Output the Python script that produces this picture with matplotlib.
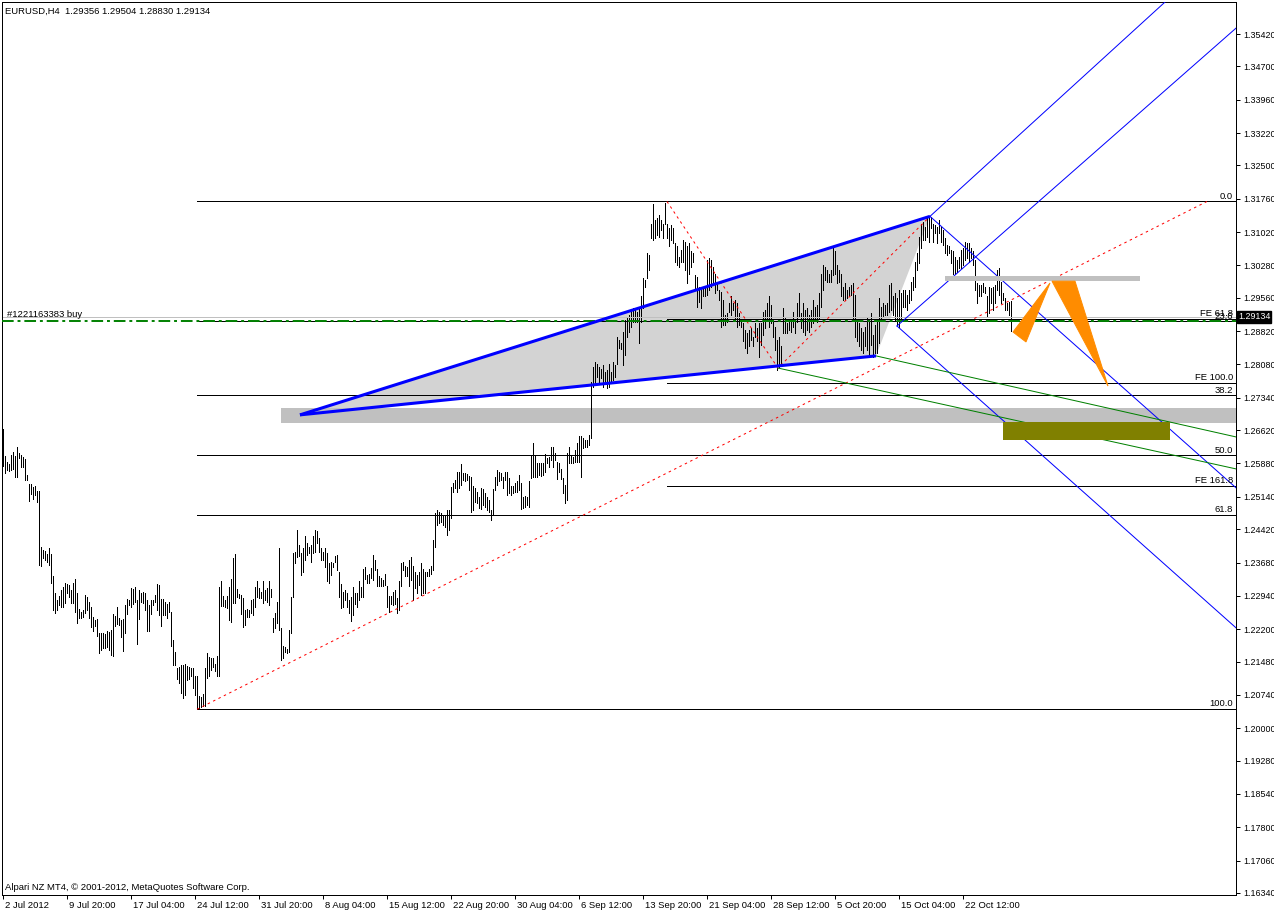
import matplotlib
matplotlib.use("Agg")
import matplotlib.pyplot as plt
import matplotlib.transforms as mtransforms
from matplotlib.patches import Polygon, Rectangle

plt.rcParams['font.family'] = ['Liberation Sans', 'DejaVu Sans']

CHART_TITLE = "EURUSD,H4  1.29356 1.29504 1.28830 1.29134"
BROKER_NOTE = "Alpari NZ MT4, \u00a9 2001-2012, MetaQuotes Software Corp."
ORDER_LABEL = "#1221163383 buy"

# H4 bar highs / lows in 1/10000 price units, one per bar starting 2 Jul 2012
HIGH_PIPS = [
    12664, 12605, 12591, 12587, 12607, 12613, 12605, 12624, 12611, 12607,
    12602, 12597, 12563, 12542, 12542, 12535, 12537, 12526, 12526, 12402,
    12396, 12394, 12388, 12400, 12387, 12337, 12300, 12285, 12294, 12306,
    12314, 12322, 12320, 12318, 12307, 12322, 12331, 12300, 12264, 12259,
    12263, 12296, 12292, 12281, 12270, 12248, 12240, 12242, 12211, 12211,
    12211, 12209, 12217, 12214, 12218, 12254, 12249, 12269, 12244, 12241,
    12243, 12274, 12287, 12285, 12311, 12309, 12314, 12285, 12306, 12300,
    12303, 12300, 12285, 12274, 12285, 12285, 12296, 12320, 12318, 12286,
    12286, 12281, 12276, 12281, 12259, 12196, 12170, 12133, 12135, 12140,
    12140, 12142, 12138, 12137, 12133, 12133, 12115, 12115, 12072, 12070,
    12077, 12133, 12166, 12159, 12157, 12155, 12143, 12160, 12314, 12326,
    12294, 12285, 12294, 12314, 12331, 12378, 12387, 12309, 12298, 12296,
    12289, 12263, 12264, 12263, 12285, 12286, 12314, 12326, 12311,
    12303, 12326, 12307, 12311, 12326, 12309, 12244, 12257, 12281, 12400,
    12222, 12183, 12181, 12175, 12218, 12292, 12390, 12392, 12440, 12407,
    12389, 12400, 12426, 12411, 12403, 12407, 12427, 12440, 12437, 12422,
    12400, 12392, 12400, 12390, 12368, 12370, 12368, 12383, 12385, 12346,
    12320, 12303, 12306, 12300, 12285, 12292, 12314, 12300, 12301, 12326,
    12314, 12353, 12357, 12340, 12343, 12355, 12385, 12374, 12353, 12337,
    12333, 12329, 12343, 12316, 12294, 12294, 12303, 12306, 12289, 12326,
    12368, 12370, 12360, 12359, 12374, 12381, 12360, 12348, 12340, 12348,
    12366, 12353, 12346, 12348, 12353, 12360, 12418, 12479, 12485, 12481,
    12477, 12471, 12474, 12485, 12485, 12535, 12544, 12551, 12568, 12570,
    12587, 12566, 12566, 12565, 12560, 12559, 12538, 12533, 12525, 12514,
    12533, 12531, 12522, 12514, 12507, 12485, 12531, 12557, 12574, 12570,
    12566, 12559, 12570, 12570, 12555, 12537, 12538, 12544, 12548, 12563,
    12544, 12514, 12516, 12514, 12548, 12607, 12633, 12607, 12588, 12588,
    12588, 12588, 12609, 12600, 12603, 12624, 12625, 12612, 12592, 12590,
    12575, 12555, 12540, 12611, 12624, 12607, 12603, 12617, 12633, 12649,
    12648, 12644, 12640, 12640, 12651, 12770,
    12803, 12814, 12810, 12803, 12799, 12807, 12792, 12796, 12810, 12792,
    12814, 12807, 12870, 12862, 12855, 12881, 12907, 12914, 12918, 12929,
    12933, 12929, 12925, 12933, 12959, 12999, 12996, 13055, 13051, 13121,
    13164, 13129, 13133, 13140, 13129, 13121, 13166, 13121, 13110, 13118,
    13110, 13077, 13070, 13047, 13062, 13084, 13081, 13070, 13077, 13059,
    13055, 13007, 13003, 12981, 12973, 12977, 12977, 13040, 13044, 13039,
    13025, 13010, 12988, 12973, 12970, 12951, 12918, 12922, 12944, 12959,
    12944, 12951, 12944, 12922, 12910, 12899, 12885, 12877, 12885, 12888,
    12870, 12899, 12888, 12899, 12899, 12925, 12929, 12944, 12959, 12940,
    12903, 12892, 12862, 12870, 12848, 12933, 12914, 12899, 12907, 12910,
    12925, 12907, 12944, 12966,
    12922, 12944, 12929, 12933, 12918, 12929, 12951, 12936, 12940, 12966,
    13010, 13029, 13025, 13018, 13010, 13018, 13066, 13059, 13029, 13018,
    13010, 12981, 12988, 12973, 12981, 12984, 12988, 12962, 12910, 12899,
    12888, 12881, 12892, 12914, 12910, 12922, 12873, 12896, 12907, 12955,
    12936, 12944, 12940, 12944, 12984, 12988, 12959, 12966, 12955, 12973,
    12966, 12973, 12973, 12962, 12973, 12992, 13003, 13036, 13055, 13092,
    13121, 13125, 13114, 13133, 13136, 13136, 13121, 13118, 13114, 13129,
    13114, 13107, 13088, 13073, 13070, 13062, 13059, 13047, 13040, 13047,
    13062, 13066, 13081, 13077, 13077, 13066, 13059, 13040, 12988, 12984,
    12984, 12988, 12981, 12959, 12981, 12977, 12981, 12984, 13018, 13022,
    12992, 12966, 12955, 12944, 12947, 12950,
]
LOW_PIPS = [
    12583, 12566, 12574, 12572, 12574, 12575, 12557, 12559, 12600, 12580,
    12580, 12551, 12551, 12505, 12520, 12510, 12518, 12503, 12363, 12361,
    12379, 12374, 12370, 12363, 12322, 12263, 12255, 12263, 12274, 12269,
    12270, 12279, 12300, 12292, 12279, 12279, 12259, 12233, 12244, 12244,
    12248, 12255, 12263, 12244, 12224, 12217, 12227, 12205, 12166, 12174,
    12178, 12178, 12181, 12174, 12163, 12161, 12228, 12232, 12229, 12203,
    12172, 12211, 12254, 12274, 12270, 12275, 12281, 12187, 12242, 12281,
    12279, 12263, 12217, 12217, 12253, 12274, 12281, 12263, 12252, 12227,
    12252, 12252, 12244, 12259, 12183, 12140, 12140, 12109, 12100, 12079,
    12066, 12074, 12107, 12109, 12115, 12089, 12074, 12044, 12042, 12047,
    12050, 12050, 12111, 12115, 12129, 12137, 12126, 12116, 12115, 12272,
    12272, 12270, 12266, 12240, 12237, 12279, 12279, 12292, 12289, 12254,
    12224, 12229, 12247, 12248, 12255, 12252, 12270, 12292, 12289,
    12289, 12278, 12285, 12281, 12274, 12292, 12214, 12222, 12233, 12218,
    12152, 12155, 12170, 12168, 12170, 12211, 12292, 12366, 12381, 12383,
    12340, 12348, 12374, 12385, 12389, 12370, 12389, 12392, 12411, 12392,
    12374, 12374, 12359, 12326, 12322, 12340, 12359, 12370, 12352, 12292,
    12266, 12270, 12285, 12270, 12255, 12239, 12252, 12277, 12270, 12285,
    12292, 12292, 12331, 12323, 12323, 12333, 12329, 12352, 12315, 12316,
    12315, 12315, 12318, 12270, 12259, 12276, 12274, 12277, 12255, 12263,
    12315, 12352, 12337, 12337, 12315, 12329, 12285, 12311, 12300, 12318,
    12296, 12300, 12300, 12337, 12338, 12342, 12352, 12403, 12451, 12455,
    12459, 12451, 12448, 12429, 12440, 12466, 12525, 12533, 12525, 12533,
    12540, 12551, 12548, 12551, 12529, 12481, 12485, 12503, 12500, 12489,
    12486, 12496, 12492, 12485, 12481, 12463, 12474, 12529, 12540, 12548,
    12551, 12533, 12551, 12518, 12522, 12518, 12522, 12525, 12525, 12529,
    12486, 12489, 12492, 12496, 12492, 12555, 12559, 12559, 12559, 12563,
    12560, 12563, 12570, 12588, 12581, 12596, 12581, 12596, 12553, 12570,
    12553, 12522, 12500, 12508, 12588, 12588, 12588, 12592, 12592, 12592,
    12559, 12622, 12625, 12625, 12629, 12644,
    12759, 12766, 12781, 12770, 12777, 12759, 12770, 12755, 12759, 12766,
    12773, 12781, 12810, 12844, 12842, 12807, 12829, 12870, 12881, 12892,
    12903, 12903, 12903, 12855, 12903, 12933, 12981, 12999, 13018, 13088,
    13084, 13088, 13096, 13092, 13107, 13088, 13121, 13088, 13070, 13084,
    13077, 13036, 13029, 13025, 13036, 13036, 13018, 12990, 13010, 13025,
    13036, 12973, 12936, 12947, 12933, 12959, 12959, 12962, 12973, 12981,
    12984, 12966, 12973, 12951, 12892, 12896, 12896, 12903, 12925, 12918,
    12929, 12907, 12892, 12896, 12892, 12859, 12844, 12833, 12848, 12862,
    12848, 12870, 12859, 12825, 12851, 12873, 12888, 12907, 12892, 12899,
    12870, 12840, 12796, 12803, 12810, 12877, 12877, 12877, 12885, 12881,
    12892, 12877, 12903, 12914,
    12888, 12881, 12873, 12885, 12881, 12892, 12899, 12907, 12903, 12910,
    12936, 12973, 12996, 12992, 12992, 12992, 13007, 13010, 12988, 12992,
    12959, 12951, 12951, 12955, 12959, 12962, 12910, 12870, 12859, 12848,
    12840, 12833, 12848, 12840, 12829, 12851, 12825, 12833, 12833, 12855,
    12910, 12914, 12918, 12918, 12925, 12929, 12918, 12907, 12896, 12892,
    12907, 12936, 12936, 12929, 12944, 12951, 12973, 12981, 13018, 13033,
    13066, 13084, 13084, 13092, 13081, 13110, 13081, 13099, 13077, 13099,
    13081, 13073, 13055, 13051, 13055, 13033, 13010, 13010, 13014, 13022,
    13022, 13029, 13040, 13044, 13036, 13044, 13029, 12973, 12944, 12959,
    12959, 12970, 12966, 12914, 12922, 12944, 12929, 12944, 12973, 12962,
    12944, 12951, 12929, 12929, 12918, 12883,
]

TIME_LABELS = ["2 Jul 2012", "9 Jul 20:00", "17 Jul 04:00", "24 Jul 12:00",
               "31 Jul 20:00", "8 Aug 04:00", "15 Aug 12:00", "22 Aug 20:00",
               "30 Aug 04:00", "6 Sep 12:00", "13 Sep 20:00", "21 Sep 04:00",
               "28 Sep 12:00", "5 Oct 20:00", "15 Oct 04:00", "22 Oct 12:00"]
TIME_LABEL_STEP = 32

PRICE_LABELS = ["1.16340", "1.17060", "1.17800", "1.18540", "1.19280", "1.20000",
                "1.20740", "1.21480", "1.22200", "1.22940", "1.23680", "1.24420",
                "1.25140", "1.25880", "1.26620", "1.27340", "1.28080", "1.28820",
                "1.29560", "1.30280", "1.31020", "1.31760", "1.32500", "1.33220",
                "1.33960", "1.34700", "1.35420"]

LAST_PRICE = 1.29134
ORDER_PRICE = 1.29050

# Fibonacci retracement (bar index, price)
FIB_LOW = (97, 1.20420)
FIB_HIGH = (602, 1.31700)
FIB_LEVELS = [0.0, 23.6, 38.2, 50.0, 61.8, 100.0]

# Fibonacci expansion points A, B, C
FE_A = (332, 1.31700)
FE_B = (387.5, 1.28000)
FE_C = (463.5, 1.31370)
FE_LEVELS = [61.8, 100.0, 161.8]

# triangle / wedge
WEDGE = [(148.5, 1.26960), (463.5, 1.31370), (436.5, 1.28270)]

# rays: (start point, through point)
BLUE_RAYS = [((463.5, 1.31370), (581.0, 1.36130)),
             ((447.0, 1.28934), (616.5, 1.35550)),
             ((463.5, 1.31370), (616.5, 1.25340)),
             ((447.0, 1.28934), (616.5, 1.22230))]
GREEN_RAYS = [((436.5, 1.28270), (616.5, 1.26470)),
              ((387.5, 1.28000), (616.5, 1.25760))]

# rectangles: (bar start, bar end or None for right edge, price low, price high)
SUPPORT_ZONE = (139, None, 1.26779, 1.27113)
TARGET_ZONE = (500, 583.5, 1.26402, 1.26802)
RESIST_ZONE = (471, 568.5, 1.29934, 1.30045)

# projected path triangles
PROJ_TRI_1 = [(505, 1.28800), (511.5, 1.28580), (523.5, 1.29890)]
PROJ_TRI_2 = [(524.5, 1.29930), (536, 1.29930), (552.5, 1.27600)]

# ------------------------------------------------------------------
FS = 6.8
FS_AX = 6.4
W, H = 1274, 913
fig = plt.figure(figsize=(W / 100, H / 100), dpi=100)
fig.patch.set_facecolor('white')
ax = fig.add_axes([2 / W, 18 / H, 1234 / W, 893 / H])
ax.set_facecolor('white')
XMIN, XMAX = -0.5, 616.5
ax.set_xlim(XMIN, XMAX)
ax.set_ylim(1.16295, 1.36131)

PX = 0.72  # one pixel in points
for s in ax.spines.values():
    s.set_linewidth(PX)
    s.set_color('black')

highs = [h / 10000 for h in HIGH_PIPS]
lows = [l / 10000 for l in LOW_PIPS]
idx = list(range(len(highs)))

# wedge fill (background)
ax.add_patch(Polygon(WEDGE, closed=True, facecolor='#d3d3d3', edgecolor='none', zorder=1))

# bars
ax.vlines(idx, lows, highs, colors='black', linewidth=PX, antialiased=False, zorder=2)

def ray(p0, p1, **kw):
    (x0, y0), (x1, y1) = p0, p1
    slope = (y1 - y0) / (x1 - x0)
    xe = 700
    ax.plot([x0, xe], [y0, y0 + slope * (xe - x0)], **kw)

# fibo retracement
rng = FIB_HIGH[1] - FIB_LOW[1]
for lv in FIB_LEVELS:
    p = FIB_HIGH[1] - rng * lv / 100.0
    ax.plot([FIB_LOW[0], XMAX], [p, p], color='black', linewidth=PX, zorder=3)
    ax.text(615, p + 0.00018, f"{lv:.1f}", ha='right', va='bottom', fontsize=FS, zorder=6)
ax.plot([FIB_LOW[0], FIB_HIGH[0]], [FIB_LOW[1], FIB_HIGH[1]], color='red',
        linewidth=PX, dashes=(2.5, 3.5), zorder=3)

# fibo expansion
ab = FE_A[1] - FE_B[1]
for lv in FE_LEVELS:
    p = FE_C[1] - ab * lv / 100.0
    ax.plot([FE_A[0], XMAX], [p, p], color='black', linewidth=PX, zorder=3)
    ax.text(615, p + 0.00018, f"FE {lv:.1f}", ha='right', va='bottom', fontsize=FS, zorder=6)
ax.plot([FE_A[0], FE_B[0], FE_C[0]], [FE_A[1], FE_B[1], FE_C[1]], color='red',
        linewidth=PX, dashes=(2.5, 3.5), zorder=3)

# bid line and order line
ax.axhline(LAST_PRICE, color='#c0c0c0', linewidth=PX, zorder=2.5)
ax.axhline(ORDER_PRICE, color='#008000', linewidth=1.4, dashes=(6, 2, 1.5, 2), zorder=3.5)
ax.text(2, ORDER_PRICE + 0.0004, ORDER_LABEL, ha='left', va='bottom', fontsize=FS, zorder=6)

# channel rays
for p0, p1 in BLUE_RAYS:
    ray(p0, p1, color='#0000ff', linewidth=PX, zorder=4)
for p0, p1 in GREEN_RAYS:
    ray(p0, p1, color='#008000', linewidth=PX, zorder=4)

# wedge edges
ax.plot([WEDGE[0][0], WEDGE[1][0]], [WEDGE[0][1], WEDGE[1][1]], color='#0000ff',
        linewidth=2.2, solid_capstyle='butt', zorder=4.5)
ax.plot([WEDGE[0][0], WEDGE[2][0]], [WEDGE[0][1], WEDGE[2][1]], color='#0000ff',
        linewidth=2.2, solid_capstyle='butt', zorder=4.5)

# zones
def zone(z, color, zo):
    x0, x1, lo, hi = z
    if x1 is None:
        x1 = XMAX
    ax.add_patch(Rectangle((x0, lo), x1 - x0, hi - lo, facecolor=color,
                           edgecolor='none', zorder=zo))

zone(SUPPORT_ZONE, '#c0c0c0', 1.5)
zone(RESIST_ZONE, '#c0c0c0', 5)
zone(TARGET_ZONE, '#808000', 5)

# projection
ax.add_patch(Polygon(PROJ_TRI_1, closed=True, facecolor='#ff8c00', edgecolor='#ff8c00',
                     linewidth=PX, zorder=5.5))
ax.add_patch(Polygon(PROJ_TRI_2, closed=True, facecolor='#ff8c00', edgecolor='#ff8c00',
                     linewidth=PX, zorder=5.5))

# axes ticks
ax.yaxis.tick_right()
ax.set_yticks([float(v) for v in PRICE_LABELS])
ax.set_yticklabels(PRICE_LABELS, fontsize=FS_AX)
ax.tick_params(axis='y', direction='out', length=3, width=PX, pad=2, colors='black')
ax.set_xticks([k * TIME_LABEL_STEP for k in range(len(TIME_LABELS))])
ax.set_xticklabels(TIME_LABELS, fontsize=FS, ha='left')
ax.tick_params(axis='x', direction='out', length=3, width=PX, pad=1.5, colors='black')
off = mtransforms.ScaledTranslation(2 / 100, 0, fig.dpi_scale_trans)
for lbl in ax.get_xticklabels():
    lbl.set_transform(lbl.get_transform() + off)

# current price tag
tr = mtransforms.blended_transform_factory(ax.transAxes, ax.transData)
ax.text(1.0015, LAST_PRICE, "1.29134", transform=tr, ha='left', va='center',
        fontsize=FS_AX, color='white', zorder=10, clip_on=False,
        bbox=dict(facecolor='black', edgecolor='black', boxstyle='square,pad=0.12'))

# texts
fig.text(5 / W, 1 - 11 / H, CHART_TITLE, ha='left', va='center', fontsize=FS)
fig.text(5 / W, 1 - 887 / H, BROKER_NOTE, ha='left', va='center', fontsize=FS)

fig.savefig('out.png', dpi=100, facecolor='white')
